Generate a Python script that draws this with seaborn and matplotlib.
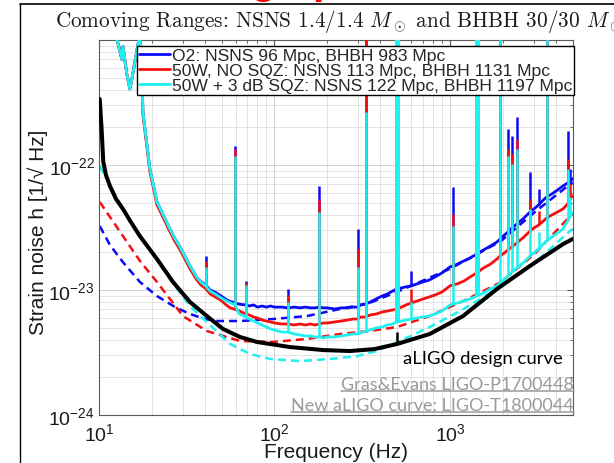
import numpy as np
import pandas as pd
import seaborn as sns
import matplotlib.pyplot as plt
from matplotlib.lines import Line2D
from matplotlib.ticker import LogLocator, NullFormatter

# measured spectra, shared frequency grid (Hz)
freq = [12.0, 12.7, 13.5, 13.7, 14.4, 15.0, 15.4, 16.5, 17.1, 17.5, 17.8, 18.8, 19.5, 20.0, 21.4,
        23, 25, 27, 29, 31, 33, 36, 38, 40.5, 43, 46, 50, 53, 56, 59.6,
        63, 68.6, 72, 76, 80, 85, 90, 95, 100, 110,
        119, 130, 140, 150, 160, 170, 180, 190, 200,
        220, 240, 260, 280, 299, 310, 331, 350, 380, 410,
        440, 470, 497, 530, 560, 603, 650, 700, 760, 820,
        900, 1000, 1045, 1100, 1200, 1300, 1419, 1550, 1700, 1850,
        1928, 2040, 2138, 2250, 2400, 2600, 2858, 3000, 3200, 3400,
        3556, 3800, 4100, 4400, 4680, 4830, 5000]

o2 = [1.2e-21, 1.0e-21, 7.0e-22, 8.9e-22, 5.35e-22, 4.06e-22, 4.88e-22, 8.47e-22, 1.1e-21, 7.0e-22, 2.65e-22, 1.42e-22, 9.3e-23, 7.9e-23, 5.06e-23,
      4.1e-23, 3.2e-23, 2.6e-23, 2.2e-23, 1.84e-23, 1.56e-23, 1.27e-23, 1.17e-23, 1.1e-23, 1.0e-23, 9.6e-24, 8.9e-24, 8.4e-24, 8.1e-24, 7.9e-24,
      7.7e-24, 7.6e-24, 7.45e-24, 7.6e-24, 7.3e-24, 7.45e-24, 7.3e-24, 7.45e-24, 7.3e-24, 7.3e-24,
      7.2e-24, 7.3e-24, 7.2e-24, 7.3e-24, 7.2e-24, 7.2e-24, 7.3e-24, 7.2e-24, 7.2e-24,
      7.05e-24, 7.2e-24, 7.2e-24, 7.3e-24, 7.3e-24, 7.6e-24, 7.7e-24, 8.0e-24, 8.5e-24, 8.95e-24,
      9.3e-24, 9.8e-24, 1.02e-23, 1.04e-23, 1.06e-23, 1.08e-23, 1.12e-23, 1.16e-23, 1.20e-23, 1.27e-23,
      1.37e-23, 1.53e-23, 1.56e-23, 1.61e-23, 1.71e-23, 1.80e-23, 1.94e-23, 2.09e-23, 2.25e-23, 2.42e-23,
      2.56e-23, 2.75e-23, 2.91e-23, 3.13e-23, 3.37e-23, 3.70e-23, 4.21e-23, 4.45e-23, 4.79e-23, 5.25e-23,
      5.55e-23, 5.86e-23, 6.31e-23, 6.79e-23, 7.18e-23, 7.45e-23, 7.73e-23]

w50 = [1.2e-21, 1.0e-21, 7.0e-22, 8.9e-22, 5.35e-22, 4.06e-22, 4.88e-22, 8.47e-22, 1.1e-21, 7.0e-22, 2.5e-22, 1.35e-22, 8.8e-23, 7.5e-23, 4.8e-23,
       3.9e-23, 3.05e-23, 2.47e-23, 2.09e-23, 1.75e-23, 1.48e-23, 1.21e-23, 1.10e-23, 1.03e-23, 9.3e-24, 8.8e-24, 8.2e-24, 7.6e-24, 7.2e-24, 7.0e-24,
       6.8e-24, 6.43e-24, 6.31e-24, 6.08e-24, 5.97e-24, 5.75e-24, 5.65e-24, 5.55e-24, 5.45e-24, 5.35e-24,
       5.35e-24, 5.25e-24, 5.35e-24, 5.25e-24, 5.35e-24, 5.25e-24, 5.35e-24, 5.45e-24, 5.45e-24,
       5.55e-24, 5.65e-24, 5.75e-24, 5.86e-24, 5.86e-24, 6.08e-24, 6.08e-24, 6.31e-24, 6.43e-24, 6.67e-24,
       6.79e-24, 6.92e-24, 7.05e-24, 7.31e-24, 7.59e-24, 7.87e-24, 8.17e-24, 8.47e-24, 8.79e-24, 9.12e-24,
       9.64e-24, 1.08e-23, 1.10e-23, 1.12e-23, 1.18e-23, 1.27e-23, 1.37e-23, 1.50e-23, 1.61e-23, 1.77e-23,
       1.87e-23, 1.98e-23, 2.09e-23, 2.21e-23, 2.38e-23, 2.61e-23, 2.96e-23, 3.13e-23, 3.31e-23, 3.56e-23,
       3.77e-23, 3.98e-23, 4.21e-23, 4.45e-23, 4.88e-23, 5.35e-23, 5.65e-23]

sqz = [1.2e-21, 1.0e-21, 7.0e-22, 8.9e-22, 5.35e-22, 4.06e-22, 4.88e-22, 8.47e-22, 1.1e-21, 7.0e-22, 2.65e-22, 1.42e-22, 9.3e-23, 7.9e-23, 5.06e-23,
       4.1e-23, 3.2e-23, 2.6e-23, 2.2e-23, 1.84e-23, 1.56e-23, 1.27e-23, 1.16e-23, 1.08e-23, 9.8e-24, 9.3e-24, 8.6e-24, 8.2e-24, 7.9e-24, 7.6e-24,
       6.43e-24, 6.08e-24, 5.86e-24, 5.65e-24, 5.45e-24, 5.25e-24, 5.06e-24, 4.88e-24, 4.79e-24, 4.61e-24,
       4.61e-24, 4.45e-24, 4.37e-24, 4.29e-24, 4.29e-24, 4.21e-24, 4.21e-24, 4.13e-24, 4.21e-24,
       4.21e-24, 4.29e-24, 4.37e-24, 4.45e-24, 4.45e-24, 4.53e-24, 4.70e-24, 4.79e-24, 4.97e-24, 5.06e-24,
       5.25e-24, 5.35e-24, 5.55e-24, 5.65e-24, 5.75e-24, 5.86e-24, 5.97e-24, 6.08e-24, 6.19e-24, 6.43e-24,
       6.79e-24, 7.59e-24, 7.73e-24, 7.87e-24, 8.17e-24, 8.47e-24, 8.95e-24, 9.46e-24, 1.02e-23, 1.08e-23,
       1.14e-23, 1.22e-23, 1.29e-23, 1.39e-23, 1.50e-23, 1.64e-23, 1.87e-23, 1.98e-23, 2.13e-23, 2.33e-23,
       2.47e-23, 2.65e-23, 2.86e-23, 3.08e-23, 3.56e-23, 3.91e-23, 4.13e-23]

# narrow lines: frequency and peak height for each trace
line_freq = [40.5, 59.6, 68.6, 119, 180, 299, 331, 497, 603, 1045, 1419, 1928, 2138, 2250, 2400, 2858, 3200, 3556, 4680, 4830]
o2_peak = [1.87e-23, 1.42e-22, 1.18e-23, 1.02e-23, 6.79e-23, 3.08e-23, 1.2e-21, 1.2e-21, 1.42e-23, 6.67e-23,
           1.2e-21, 1.2e-21, 1.94e-22, 1.71e-22, 2.42e-22, 8.79e-23, 6.43e-23, 1.2e-21, 1.87e-22, 9.3e-23]
w50_peak = [1.7e-23, 1.34e-22, 1.14e-23, 9.1e-24, 5.35e-23, 2.13e-23, 1.2e-21, 1.2e-21, 1.02e-23, 4.06e-23,
            1.2e-21, 1.2e-21, 1.34e-22, 1.22e-22, 1.61e-22, 5.35e-23, 4.3e-23, 1.2e-21, 1.12e-22, 7.0e-23]
sqz_peak = [1.53e-23, 1.18e-22, 1.10e-23, 8.0e-24, 4.21e-23, 1.53e-23, 2.65e-22, 1.2e-21, 8.0e-24, 3.25e-23,
            1.2e-21, 1.2e-21, 1.18e-22, 1.02e-22, 1.34e-22, 4.45e-23, 2.9e-23, 1.2e-21, 9.29e-23, 5.5e-23]
wide_lines = [497, 1419]

# model curves (dashed)
o2_model_f = [10.1, 11.55, 13.7, 17.1, 21.4, 27.1, 33, 40.2, 47, 63.6, 98, 153, 236, 348, 520, 1000, 1940, 3040, 5000]
o2_model = [3.25e-23, 2.29e-23, 1.67e-23, 1.16e-23, 8.95e-24, 7.31e-24, 6.43e-24, 5.86e-24, 5.65e-24, 5.65e-24,
            5.86e-24, 6.19e-24, 7.05e-24, 7.87e-24, 9.9e-24, 1.48e-23, 2.45e-23, 4.2e-23, 7.3e-23]
w50_model_f = [10.1, 11.55, 13.7, 17.1, 21.4, 30.1, 41.2, 63.6, 98, 153, 236, 348, 499, 767, 1220, 1940, 3040, 5000]
w50_model = [5.06e-23, 3.84e-23, 2.70e-23, 1.71e-23, 1.16e-23, 6.19e-24, 4.70e-24, 3.91e-24, 3.84e-24, 4.06e-24,
             4.45e-24, 4.70e-24, 5.06e-24, 6.2e-24, 8.3e-24, 1.15e-23, 1.95e-23, 4.1e-23]
sqz_model_f = [10.1, 11.55, 15.0, 19.5, 25.4, 33, 42.9, 55.8, 72.5, 94.3, 140, 207, 295, 383, 520, 767, 1140, 1940, 2860, 5000]
sqz_model = [9.82e-23, 6.9e-23, 3.55e-23, 2.13e-23, 1.22e-23, 7.45e-24, 5.25e-24, 3.70e-24, 3.08e-24, 2.81e-24,
             2.70e-24, 2.81e-24, 2.96e-24, 3.25e-24, 3.91e-24, 5.06e-24, 6.79e-24, 1.06e-23, 1.53e-23, 3.1e-23]

# aLIGO design curve
design_f = [10.1, 10.2, 10.35, 10.58, 10.96, 11.55, 12.5, 13.7, 15.0, 17.1, 21.4, 26.4, 33.0, 41.2, 50.9, 63.6,
            79.5, 122, 189, 269, 372, 499, 767, 1186, 1853, 2857, 4406, 5000]
design = [3.37e-22, 2.7e-22, 1.94e-22, 1.06e-22, 8.32e-23, 6.79e-23, 5.35e-23, 4.45e-23, 3.6e-23, 2.70e-23,
          1.77e-23, 1.16e-23, 8.02e-24, 6.19e-24, 4.88e-24, 4.21e-24, 3.84e-24, 3.50e-24, 3.31e-24, 3.25e-24,
          3.37e-24, 3.70e-24, 4.45e-24, 6.19e-24, 1.02e-23, 1.56e-23, 2.33e-23, 2.56e-23]
notch_f = 499
notch_peak = 4.6e-24

labels = ["O2: NSNS 96 Mpc, BHBH 983 Mpc",
          "50W, NO SQZ: NSNS 113 Mpc, BHBH 1131 Mpc",
          "50W + 3 dB SQZ: NSNS 122 Mpc, BHBH 1197 Mpc"]
colors = ["#0a0af5", "#f51010", "#1ff0f0"]

sns.set_style("white")
plt.rcParams['font.family'] = ['Liberation Sans', 'DejaVu Sans']
plt.rcParams['mathtext.fontset'] = 'custom'
plt.rcParams['mathtext.rm'] = 'Liberation Sans'
plt.rcParams['mathtext.it'] = 'Liberation Sans:italic'
plt.rcParams['axes.unicode_minus'] = False

fig = plt.figure(figsize=(6.14, 4.64), dpi=100)
ax = fig.add_axes([0.1612, 0.1034, 0.7715, 0.8082])

# dashed model curves
for mf, mv, c in zip([o2_model_f, w50_model_f, sqz_model_f], [o2_model, w50_model, sqz_model], colors):
    sns.lineplot(x=mf, y=mv, color=c, lw=1.8, linestyle=(0, (3.2, 2.0)), ax=ax, zorder=2)

# measured spectra with their lines
for i, (vals, peaks, c, lab) in enumerate(zip([o2, w50, sqz], [o2_peak, w50_peak, sqz_peak], colors, labels)):
    sns.lineplot(x=freq, y=vals, color=c, lw=2.0, ax=ax, zorder=3 + i, label=lab, estimator=None)
    for lf, pk in zip(line_freq, peaks):
        foot = vals[freq.index(lf)]
        ax.vlines(lf, foot, pk, color=c, lw=3.6 if lf in wide_lines else 1.8, zorder=3 + i)

sns.lineplot(x=design_f, y=design, color="black", lw=2.9, ax=ax, zorder=7)
ax.vlines(notch_f, design[design_f.index(notch_f)], notch_peak, color="black", lw=1.8, zorder=7)

ax.set_xscale('log')
ax.set_yscale('log')
ax.set_xlim(10, 5000)
ax.set_ylim(1e-24, 1e-21)
ax.set_yticks([1e-24, 1e-23, 1e-22])
ax.yaxis.set_minor_locator(LogLocator(base=10, subs=np.arange(2, 10), numticks=50))
ax.yaxis.set_minor_formatter(NullFormatter())
ax.xaxis.set_minor_locator(LogLocator(base=10, subs=np.arange(2, 10), numticks=50))
ax.xaxis.set_minor_formatter(NullFormatter())

ax.set_axisbelow(True)
ax.grid(True, which='major', color='#cfcfcf', lw=0.7)
ax.grid(True, which='minor', color='#dedede', lw=0.6)
ax.tick_params(which='both', direction='in', top=True, right=True, color='#555555')
ax.tick_params(which='major', length=4, labelsize=14, labelcolor='#1a1a1a')
ax.tick_params(which='minor', length=2)
ax.tick_params(axis='x', pad=5)
ax.tick_params(axis='y', pad=3)
for sp in ax.spines.values():
    sp.set_color('#5a5a5a')
    sp.set_linewidth(0.8)

ax.set_xlabel("Frequency (Hz)", fontsize=15, color='#1a1a1a')
ax.xaxis.set_label_coords(0.5, -0.072)
ax.set_ylabel("Strain noise h [1/\u221a Hz]", fontsize=15, color='#1a1a1a')
ax.yaxis.set_label_coords(-0.108, 0.49)

h, l = ax.get_legend_handles_labels()
leg = ax.legend(h[:3], l[:3], loc='upper left', bbox_to_anchor=(137 / 614, 1 - 47 / 464),
                bbox_transform=fig.transFigure, fontsize=12.6, fancybox=False, framealpha=1,
                edgecolor='black', borderpad=0.1, labelspacing=0.0, handlelength=1.8,
                handletextpad=0.1, borderaxespad=0)
leg.get_frame().set_linewidth(1.0)
for ln in leg.get_lines():
    ln.set_linewidth(2.0)
leg.set_zorder(20)

# slide decorations
fig.text(55 / 614, 1 - 27 / 464, r"Comoving Ranges: NSNS 1.4/1.4 $M_\odot$ and BHBH 30/30 $M_\odot$",
         family='cmr10', math_fontfamily='cm', fontsize=15.3, va='baseline', ha='left', color='#1a1a1a')
fig.text(250 / 614, 1 + 7 / 464, "g", color='#ff0000', fontsize=30, weight='bold', va='baseline')
fig.text(312 / 614, 1 + 7 / 464, "p", color='#ff0000', fontsize=30, weight='bold', va='baseline')
fig.add_artist(Line2D([20 / 614, 20 / 614], [0, 1 - 5 / 464], color='black', lw=1.0, transform=fig.transFigure))
fig.add_artist(Line2D([20 / 614, 1], [1 - 5 / 464, 1 - 5 / 464], color='black', lw=1.2, transform=fig.transFigure))

fig.text(403 / 614, 1 - 359 / 464, "aLIGO design curve", family='Lato', fontsize=13.3,
         color='black', va='center', ha='left', zorder=30)
notes = [fig.text(574 / 614, 1 - 385 / 464, "Gras&Evans LIGO-P1700448", family='Lato', fontsize=13.0,
                  color='#9a9a9a', va='center', ha='right', zorder=30),
         fig.text(574 / 614, 1 - 406 / 464, "New aLIGO curve: LIGO-T1800044", family='Lato', fontsize=13.0,
                  color='#9a9a9a', va='center', ha='right', zorder=30)]

fig.canvas.draw()
r = fig.canvas.get_renderer()
W, H = fig.bbox.width, fig.bbox.height
for t in notes:
    bb = t.get_window_extent(r)
    fig.add_artist(Line2D([bb.x0 / W, bb.x1 / W], [(bb.y0 + 1) / H, (bb.y0 + 1) / H],
                          color='#9a9a9a', lw=1.1, transform=fig.transFigure, zorder=30))

fig.savefig("out.png", dpi=100)
